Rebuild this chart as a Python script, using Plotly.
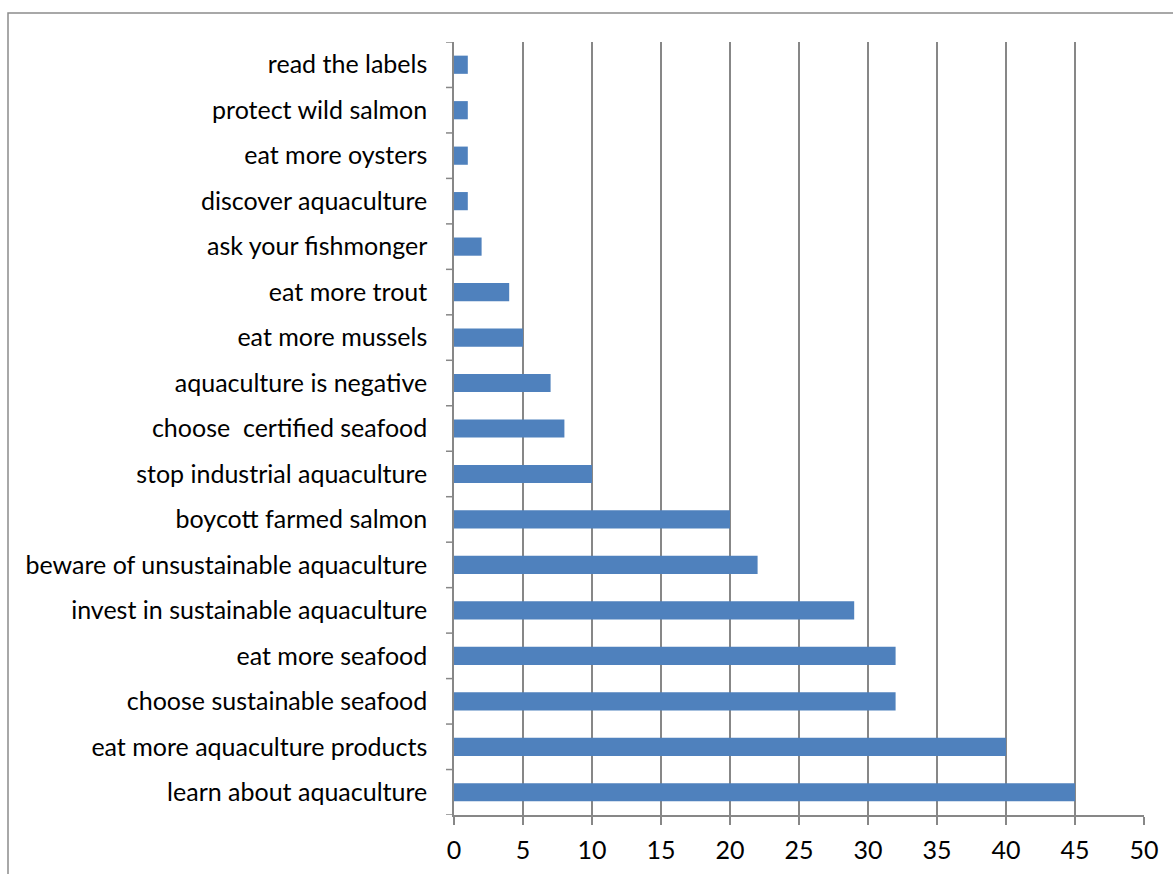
import plotly.graph_objects as go

# Survey responses: recommended consumer actions (bottom to top)
actions = [
    "learn about aquaculture",
    "eat more aquaculture products",
    "choose sustainable seafood",
    "eat more seafood",
    "invest in sustainable aquaculture",
    "beware of unsustainable aquaculture",
    "boycott farmed salmon",
    "stop industrial aquaculture",
    "choose\u00a0 certified seafood",
    "aquaculture is negative",
    "eat more mussels",
    "eat more trout",
    "ask your fishmonger",
    "discover aquaculture",
    "eat more oysters",
    "protect wild salmon",
    "read the labels",
]
counts = [45, 40, 32, 32, 29, 22, 20, 10, 8, 7, 5, 4, 2, 1, 1, 1, 1]
x_ticks = [0, 5, 10, 15, 20, 25, 30, 35, 40, 45, 50]

W, H = 1173, 874
ML, MR, MT, MB = 454, 29, 42, 59
pw, ph = W - ML - MR, H - MT - MB

fig = go.Figure(
    go.Bar(
        x=counts,
        y=actions,
        orientation="h",
        marker=dict(color="#4F81BD", line=dict(width=0)),
        width=0.4,
    )
)

grey = "#878787"
font = dict(family="Lato, Open Sans, sans-serif", size=25, color="#000000")

fig.update_layout(
    width=W,
    height=H,
    margin=dict(l=ML, r=MR, t=MT, b=MB, pad=0, autoexpand=False),
    paper_bgcolor="white",
    plot_bgcolor="white",
    showlegend=False,
    font=font,
    bargap=0.6,
)

fig.update_xaxes(
    automargin=False,
    range=[0, 50],
    tickvals=x_ticks,
    ticktext=[str(v) for v in x_ticks],
    showgrid=True,
    gridcolor=grey,
    gridwidth=1.5,
    zeroline=False,
    showline=True,
    linecolor=grey,
    linewidth=1.5,
    ticks="outside",
    ticklen=8,
    tickcolor=grey,
    tickwidth=1.5,
    ticklabelstandoff=4,
    tickfont=font,
    mirror=False,
)

fig.update_yaxes(
    automargin=False,
    type="category",
    categoryorder="array",
    categoryarray=actions,
    range=[-0.5, len(actions) - 0.5],
    showgrid=False,
    zeroline=False,
    showline=True,
    linecolor=grey,
    linewidth=1.5,
    ticks="",
    tickfont=font,
    ticklabelstandoff=20,
)

# Outward tick marks on category boundaries
for i in range(len(actions) + 1):
    fig.add_shape(
        type="line",
        xref="paper",
        yref="y",
        x0=-8 / pw,
        x1=0,
        y0=i - 0.5,
        y1=i - 0.5,
        line=dict(color=grey, width=1.5),
    )

# Chart-area border
fig.add_shape(
    type="rect",
    xref="paper",
    yref="paper",
    x0=(8 - ML) / pw,
    x1=(W + 5 - ML) / pw,
    y0=-(MB + 5) / ph,
    y1=1 + (MT - 13) / ph,
    line=dict(color="#8c8c8c", width=1.5),
    fillcolor="rgba(0,0,0,0)",
    layer="below",
)

fig.write_html("out.html")
